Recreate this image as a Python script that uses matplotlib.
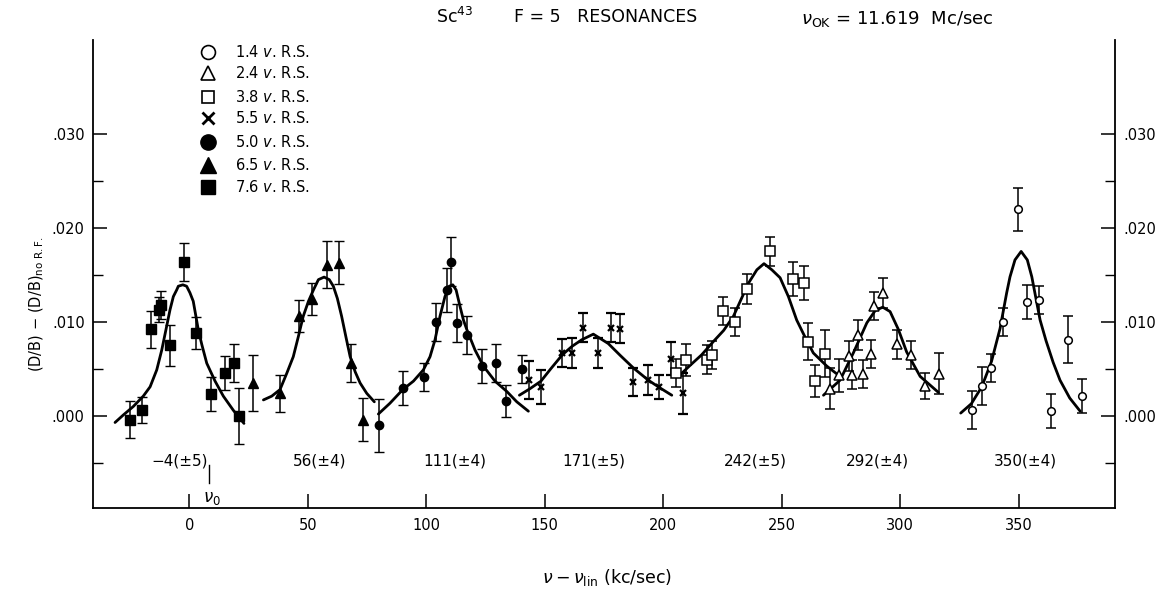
import matplotlib
matplotlib.use("Agg")
import matplotlib.pyplot as plt

plt.rcParams['font.family'] = ['DejaVu Sans']

# ---------------- data ----------------
# 1.4 v. R.S. (open circles)
x_14 = [330.4, 334.4, 338.3, 343.5, 349.6, 353.6, 358.6, 363.6, 370.7, 376.6]
y_14 = [0.0006, 0.0032, 0.0051, 0.0100, 0.0220, 0.0121, 0.0123, 0.0005, 0.0081, 0.0021]
e_14 = [0.0020, 0.0020, 0.0015, 0.0015, 0.0023, 0.0018, 0.0015, 0.0018, 0.0025, 0.0018]

# 2.4 v. R.S. (open triangles)
x_24 = [270.4, 274.3, 278.4, 279.5, 282.3, 284.4, 287.5, 288.9, 292.6, 298.5, 304.4, 310.5, 316.5]
y_24 = [0.0029, 0.0043, 0.0064, 0.0044, 0.0086, 0.0045, 0.0066, 0.0117, 0.0131, 0.0076, 0.0065, 0.0032, 0.0045]
e_24 = [0.0022, 0.0018, 0.0016, 0.0015, 0.0016, 0.0015, 0.0015, 0.0015, 0.0016, 0.0015, 0.0015, 0.0014, 0.0022]

# 3.8 v. R.S. (open squares)
x_38 = [205.3, 209.5, 218.4, 220.5, 225.4, 230.3, 235.5, 245.1, 254.6, 259.5, 261.2, 264.1, 268.3]
y_38 = [0.0046, 0.0059, 0.0060, 0.0065, 0.0112, 0.0100, 0.0135, 0.0175, 0.0146, 0.0141, 0.0079, 0.0037, 0.0066]
e_38 = [0.0015, 0.0017, 0.0015, 0.0015, 0.0015, 0.0015, 0.0016, 0.0015, 0.0018, 0.0018, 0.0020, 0.0017, 0.0025]

# 5.5 v. R.S. (crosses)
x_55 = [143.5, 148.4, 157.4, 161.4, 166.2, 172.4, 178.0, 181.8, 187.4, 193.7, 198.2, 203.2, 208.2]
y_55 = [0.0038, 0.0031, 0.0067, 0.0067, 0.0094, 0.0067, 0.0094, 0.0093, 0.0036, 0.0038, 0.0031, 0.0061, 0.0024]
e_55 = [0.0020, 0.0018, 0.0015, 0.0016, 0.0015, 0.0016, 0.0015, 0.0015, 0.0015, 0.0016, 0.0013, 0.0018, 0.0022]

# 5.0 v. R.S. (filled circles)
x_50 = [80.1, 90.1, 99.1, 104.1, 108.6, 110.3, 113.1, 117.3, 123.4, 129.5, 133.5, 140.3]
y_50 = [-0.0010, 0.0030, 0.0041, 0.0100, 0.0134, 0.0164, 0.0099, 0.0086, 0.0053, 0.0056, 0.0016, 0.0050]
e_50 = [0.0028, 0.0018, 0.0015, 0.0020, 0.0023, 0.0026, 0.0020, 0.0020, 0.0018, 0.0020, 0.0017, 0.0015]

# 6.5 v. R.S. (filled triangles)
x_65 = [27.1, 38.3, 46.2, 52.0, 58.0, 63.2, 68.4, 73.5]
y_65 = [0.0035, 0.0024, 0.0106, 0.0124, 0.0161, 0.0163, 0.0056, -0.0004]
e_65 = [0.0030, 0.0020, 0.0017, 0.0017, 0.0025, 0.0023, 0.0020, 0.0023]

# 7.6 v. R.S. (filled squares)
x_76 = [-25.0, -20.0, -16.1, -12.8, -11.9, -8.1, -2.1, 2.9, 9.1, 15.0, 18.9, 21.2]
y_76 = [-0.0004, 0.0006, 0.0092, 0.0113, 0.0118, 0.0075, 0.0164, 0.0088, 0.0023, 0.0046, 0.0056, 0.0000]
e_76 = [0.0020, 0.0014, 0.0020, 0.0013, 0.0015, 0.0022, 0.0020, 0.0017, 0.0018, 0.0018, 0.0020, 0.0030]

# fitted resonance curves
cx1 = [-31.3, -27.8, -23.6, -19.4, -16.5, -13.7, -11.6, -9.8, -8.1, -6.7, -5.3, -4.6, -2.7,
       -1.1, 0.3, 1.7, 3.8, 5.3, 7.4, 10.9, 14.4, 18.6, 23.1]
cy1 = [-0.0007, 0.0001, 0.0010, 0.0021, 0.0031, 0.0049, 0.0070, 0.0092, 0.0113, 0.0127, 0.0134,
       0.0138, 0.01395, 0.0138, 0.0131, 0.0122, 0.0092, 0.0076, 0.0056, 0.0037, 0.0021, 0.0006, -0.0008]
cx2 = [31.3, 34.8, 38.3, 41.1, 43.9, 46.0, 48.1, 50.3, 52.4, 54.5, 56.9, 59.1, 60.8, 62.5,
       64.3, 66.2, 67.9, 70.0, 72.1, 74.9, 78.1]
cy2 = [0.0017, 0.0021, 0.0028, 0.0045, 0.0063, 0.0084, 0.0106, 0.0122, 0.0134, 0.0145, 0.01477,
       0.0145, 0.0138, 0.0125, 0.0106, 0.0083, 0.0063, 0.0047, 0.0035, 0.0024, 0.0015]
cx3 = [79.8, 84.7, 90.1, 94.6, 98.8, 101.6, 103.7, 105.8, 107.9, 109.7, 111.2, 112.6, 114.3,
       115.7, 117.1, 120.6, 124.1, 129.0, 134.0, 138.2, 143.1]
cy3 = [0.0002, 0.00135, 0.0028, 0.0037, 0.0049, 0.0063, 0.0081, 0.0106, 0.0127, 0.0138, 0.01395,
       0.0134, 0.0116, 0.0102, 0.0092, 0.0070, 0.0053, 0.0037, 0.0026, 0.0015, 0.0005]
cx4 = [139.3, 143.8, 148.4, 152.5, 157.4, 161.5, 165.6, 170.5, 176.8, 182.0, 187.4, 193.7, 198.5, 203.6]
cy4 = [0.0022, 0.0029, 0.0037, 0.0050, 0.0065, 0.0074, 0.0081, 0.0087, 0.0077, 0.0064, 0.0051,
       0.0038, 0.0030, 0.0022]
cx5 = [206.4, 211.0, 216.2, 221.1, 225.5, 229.6, 235.9, 239.5, 242.5, 245.8, 249.3, 252.8,
       256.3, 259.8, 263.3, 269.0, 274.6]
cy5 = [0.0042, 0.0053, 0.0065, 0.0079, 0.0091, 0.0106, 0.0141, 0.01555, 0.0162, 0.01555, 0.0147,
       0.0127, 0.0102, 0.0084, 0.0067, 0.0053, 0.0042]
cx6 = [267.6, 274.6, 280.2, 285.9, 289.4, 292.6, 295.7, 299.2, 302.7, 308.4, 316.1]
cy6 = [0.0022, 0.0038, 0.0067, 0.0099, 0.0112, 0.01157, 0.0111, 0.0092, 0.0068, 0.0042, 0.0025]
cx7 = [325.5, 330.0, 334.4, 338.5, 342.1, 344.9, 346.3, 348.4, 351.0, 353.6, 355.5, 359.0,
       361.5, 364.5, 367.4, 371.5, 375.9]
cy7 = [0.0003, 0.0013, 0.0031, 0.0058, 0.0093, 0.0131, 0.0148, 0.0166, 0.0175, 0.0166, 0.0148,
       0.0102, 0.0080, 0.0057, 0.0038, 0.0019, 0.0005]

peak_labels = ["\u22124(\u00b15)", "56(\u00b14)", "111(\u00b14)", "171(\u00b15)",
               "242(\u00b15)", "292(\u00b14)", "350(\u00b14)"]
peak_label_x = [-3.9, 55.2, 112.0, 170.8, 238.7, 290.2, 352.7]

legend_labels = ["1.4 $v$. R.S.", "2.4 $v$. R.S.", "3.8 $v$. R.S.", "5.5 $v$. R.S.",
                 "5.0 $v$. R.S.", "6.5 $v$. R.S.", "7.6 $v$. R.S."]

xticks = [0, 50, 100, 150, 200, 250, 300, 350]
yticks = [0.000, 0.010, 0.020, 0.030]
yticklabels = [".000", ".010", ".020", ".030"]

# ---------------- figure ----------------
fig = plt.figure(figsize=(11.56, 5.94), dpi=100)
ax = fig.add_axes([93/1156, 1 - 508/594, (1115-93)/1156, (508-40)/594])
ax.set_xlim(-40.6, 390.6)
ax.set_ylim(-0.0098, 0.0400)

ebkw = dict(ecolor='black', elinewidth=1.1, capsize=3.5, capthick=1.1, linestyle='none', zorder=3)
series = [
    (x_14, y_14, e_14, dict(marker='o', ms=5.5, mfc='white', mec='black', mew=1.1)),
    (x_24, y_24, e_24, dict(marker='^', ms=7, mfc='white', mec='black', mew=1.1)),
    (x_38, y_38, e_38, dict(marker='s', ms=7, mfc='white', mec='black', mew=1.1)),
    (x_55, y_55, e_55, dict(marker='x', ms=5, mfc='black', mec='black', mew=1.6)),
    (x_50, y_50, e_50, dict(marker='o', ms=6, mfc='black', mec='black', mew=1.0)),
    (x_65, y_65, e_65, dict(marker='^', ms=7, mfc='black', mec='black', mew=1.0)),
    (x_76, y_76, e_76, dict(marker='s', ms=6.5, mfc='black', mec='black', mew=1.0)),
]
for xs, ys, es, mk in series:
    ax.errorbar(xs, ys, yerr=es, **mk, **ebkw)

for cx, cy in [(cx1, cy1), (cx2, cy2), (cx3, cy3), (cx4, cy4), (cx5, cy5), (cx6, cy6), (cx7, cy7)]:
    ax.plot(cx, cy, color='black', lw=2.0, zorder=2, solid_capstyle='round', solid_joinstyle='round')

# peak labels
for lab, lx in zip(peak_labels, peak_label_x):
    ax.text(lx, -0.0048, lab, ha='center', va='center', fontsize=11)

# nu_0 marker
ax.plot([8.4, 8.4], [-0.0052, -0.0071], color='black', lw=1.0)
ax.text(9.5, -0.0087, r"$\nu_0$", ha='center', va='center', fontsize=12)

# legend (manual)
leg_markers = [dict(marker='o', ms=10, mfc='white', mec='black', mew=1.2),
               dict(marker='^', ms=10, mfc='white', mec='black', mew=1.2),
               dict(marker='s', ms=9, mfc='white', mec='black', mew=1.2),
               dict(marker='x', ms=8, mfc='black', mec='black', mew=2.0),
               dict(marker='o', ms=11, mfc='black', mec='black', mew=1.0),
               dict(marker='^', ms=11, mfc='black', mec='black', mew=1.0),
               dict(marker='s', ms=10, mfc='black', mec='black', mew=1.0)]
leg_y = [0.974, 0.929, 0.878, 0.833, 0.782, 0.733, 0.686]
for mk, lab, yy in zip(leg_markers, legend_labels, leg_y):
    ax.plot([0.1125], [yy], transform=ax.transAxes, linestyle='none', clip_on=False, **mk)
    ax.text(0.139, yy, lab, transform=ax.transAxes, ha='left', va='center', fontsize=10.5)

# axes styling
ax.spines['top'].set_visible(False)
for s in ['left', 'right', 'bottom']:
    ax.spines[s].set_linewidth(1.3)
ax.set_xticks(xticks)
ax.set_yticks(yticks)
ax.set_yticklabels(yticklabels)
ax.set_yticks([-0.005, 0.005, 0.015, 0.025], minor=True)
ax.tick_params(axis='y', which='both', direction='in', left=True, right=True,
               labelleft=True, labelright=True, labelsize=10.5, pad=6)
ax.tick_params(axis='y', which='major', length=10, width=1.1)
ax.tick_params(axis='y', which='minor', length=7, width=1.0)
ax.tick_params(axis='x', which='major', direction='in', length=10, width=1.1,
               labelsize=10.5, pad=7, top=False)

# titles and axis labels
fig.text(455/1156, 1 - 17/594, r"Sc$^{43}$", ha='center', va='center', fontsize=12.5)
fig.text(514/1156, 1 - 17/594, "F = 5   RESONANCES", ha='left', va='center', fontsize=12.5)
fig.text(801/1156, 1 - 19/594, r"$\nu_{\rm OK}$ = 11.619  Mc/sec", ha='left', va='center', fontsize=13)
fig.text(37/1156, 1 - 304/594, r"(D/B) $-$ (D/B)$_{\rm no\ R.F.}$", rotation=90,
         ha='center', va='center', fontsize=10.5)
fig.text(607/1156, 1 - 578/594, r"$\nu - \nu_{\rm lin}$ (kc/sec)", ha='center', va='center', fontsize=12.5)

fig.savefig("out.png", dpi=100)
